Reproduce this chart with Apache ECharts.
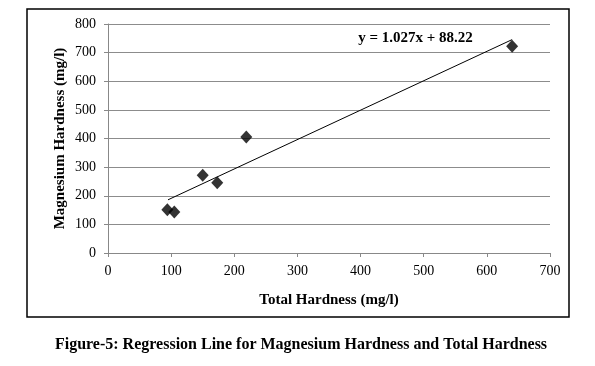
<!DOCTYPE html>
<html><head><meta charset="utf-8">
<script src="https://cdn.jsdelivr.net/npm/echarts@6/dist/echarts.min.js"></script>
<style>html,body{margin:0;padding:0;background:#fff}#c{width:595px;height:366px}</style>
</head><body><div id="c"></div>
<script>
var totalHardness = [94, 105, 150, 173, 219, 640];
var magnesiumHardness = [151, 143, 272, 245, 405, 722];
var trendX = [95, 640];
var trendY = [185.8, 745.5];
var equationText = 'y = 1.027x + 88.22';
var xTitle = 'Total Hardness (mg/l)';
var yTitle = 'Magnesium Hardness (mg/l)';
var caption = 'Figure-5: Regression Line for Magnesium Hardness and Total Hardness';

var font = '"Liberation Serif", "Times New Roman", serif';
var chart = echarts.init(document.getElementById('c'), null, {renderer: 'canvas'});
chart.setOption({
  animation: false,
  backgroundColor: '#fff',
  grid: {left: 108, right: 45, top: 24, bottom: 113},
  xAxis: {
    type: 'value', min: 0, max: 700, interval: 100,
    name: xTitle, nameLocation: 'middle', nameGap: 40, nameMoveOverlap: false,
    nameTextStyle: {fontFamily: font, fontWeight: 'bold', fontSize: 15, color: '#000'},
    axisLine: {show: true, lineStyle: {color: '#888', width: 1}},
    axisTick: {show: true, inside: false, length: 4, lineStyle: {color: '#888'}},
    axisLabel: {fontFamily: font, fontSize: 14, color: '#000', margin: 11},
    splitLine: {show: false}
  },
  yAxis: {
    type: 'value', min: 0, max: 800, interval: 100,
    name: yTitle, nameLocation: 'middle', nameGap: 40, nameRotate: 90, nameMoveOverlap: false,
    nameTextStyle: {fontFamily: font, fontWeight: 'bold', fontSize: 15, color: '#000'},
    axisLine: {show: true, lineStyle: {color: '#888', width: 1}},
    axisTick: {show: true, inside: false, length: 4, lineStyle: {color: '#888'}},
    axisLabel: {fontFamily: font, fontSize: 14, color: '#000', margin: 12},
    splitLine: {show: true, lineStyle: {color: '#8c8c8c', width: 1}}
  },
  series: [
    {
      type: 'line',
      data: trendX.map(function (x, i) { return [x, trendY[i]]; }),
      showSymbol: false, symbol: 'none',
      lineStyle: {color: '#000', width: 1},
      z: 2
    },
    {
      type: 'scatter',
      data: totalHardness.map(function (x, i) { return [x, magnesiumHardness[i]]; }),
      symbol: 'diamond', symbolSize: [12, 13],
      itemStyle: {color: '#000'},
      z: 3
    }
  ],
  graphic: [
    {type: 'rect', shape: {x: 27, y: 9, width: 542, height: 308},
     style: {fill: null, stroke: '#000', lineWidth: 1.5}, silent: true},
    {type: 'text', x: 415.5, y: 38,
     style: {text: equationText, font: 'bold 15px ' + font, fill: '#000', textAlign: 'center', textVerticalAlign: 'middle'}},
    {type: 'text', x: 301, y: 345,
     style: {text: caption, font: 'bold 16px ' + font, fill: '#000', textAlign: 'center', textVerticalAlign: 'middle'}}
  ]
});
</script></body></html>
